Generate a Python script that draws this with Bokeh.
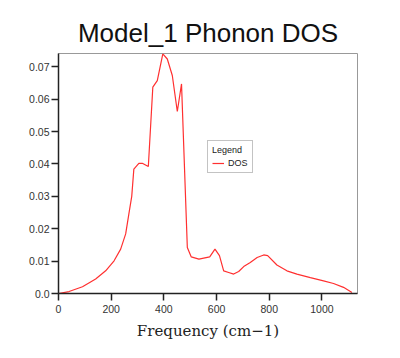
from bokeh.plotting import figure
from bokeh.models import (ColumnDataSource, FixedTicker, CustomJSTickFormatter,
                          Legend, LegendItem, Range1d)
from bokeh.embed import file_html
from bokeh.resources import INLINE

freq = [0, 40, 91, 141, 179, 211, 236, 255, 267, 278, 286, 305, 318, 341, 358,
        375, 396, 413, 432, 451, 467, 489, 504, 533, 574, 594, 611, 627, 646,
        665, 684, 703, 728, 754, 779, 794, 829, 867, 905, 956, 1006, 1044,
        1082, 1114]
dos = [0.0, 0.0006, 0.0021, 0.0045, 0.0070, 0.0101, 0.0137, 0.0184, 0.0245,
       0.0300, 0.0384, 0.0402, 0.0402, 0.0392, 0.0637, 0.0657, 0.0740, 0.0724,
       0.0673, 0.0562, 0.0647, 0.0142, 0.0113, 0.0106, 0.0113, 0.0137, 0.0117,
       0.0070, 0.0065, 0.0060, 0.0068, 0.0083, 0.0096, 0.0111, 0.0119, 0.0117,
       0.0088, 0.0070, 0.0060, 0.0049, 0.0039, 0.0031, 0.0019, 0.0003]
x_ticks = [0, 200, 400, 600, 800, 1000]
y_ticks = [0.0, 0.01, 0.02, 0.03, 0.04, 0.05, 0.06, 0.07]
title_text = "Model_1 Phonon DOS"
x_label = "Frequency (cm\u22121)"
series_name = "DOS"
legend_title = "Legend"

src = ColumnDataSource(dict(x=freq, y=dos))

p = figure(width=384, height=342, output_backend="svg", toolbar_location=None,
           x_range=Range1d(0, 1135), y_range=Range1d(0, 0.0741),
           min_border_left=58, min_border_right=27, min_border_top=53,
           min_border_bottom=49)

p.title.text = title_text
p.title.align = "center"
p.title.text_font = "Liberation Sans"
p.title.text_font_size = "26px"
p.title.text_font_style = "normal"
p.title.text_color = "#111111"
p.title.standoff = 12

r = p.line("x", "y", source=src, line_color="#ff3030", line_width=1.2)

p.xgrid.visible = False
p.ygrid.visible = False
p.outline_line_color = "#999999"
p.outline_line_width = 1

for ax in (p.xaxis[0], p.yaxis[0]):
    ax.axis_line_color = "#222222"
    ax.axis_line_width = 1.5
    ax.major_tick_line_color = "#222222"
    ax.major_tick_line_width = 1.5
    ax.major_tick_out = 7
    ax.major_tick_in = 0
    ax.minor_tick_line_color = None
    ax.major_label_text_font = "Liberation Sans"
    ax.major_label_text_font_size = "10.5px"
    ax.major_label_text_color = "#333333"

p.xaxis[0].ticker = FixedTicker(ticks=x_ticks)
p.yaxis[0].ticker = FixedTicker(ticks=y_ticks)
p.yaxis[0].formatter = CustomJSTickFormatter(
    code="return tick == 0 ? '0.0' : tick.toFixed(2);")
p.xaxis[0].major_label_standoff = 4
p.yaxis[0].major_label_standoff = 2

p.xaxis[0].axis_label = x_label
p.xaxis[0].axis_label_text_font = "DejaVu Serif"
p.xaxis[0].axis_label_text_font_size = "15px"
p.xaxis[0].axis_label_text_font_style = "normal"
p.xaxis[0].axis_label_text_color = "#222222"
p.xaxis[0].axis_label_standoff = 6

legend = Legend(items=[LegendItem(label=series_name, renderers=[r])],
                location=(149, 120), title=legend_title)
legend.title_text_font = "Liberation Sans"
legend.title_text_font_size = "9px"
legend.title_text_font_style = "normal"
legend.title_text_color = "#222222"
legend.title_standoff = 3
legend.label_text_font = "Liberation Sans"
legend.label_text_font_size = "9px"
legend.label_text_color = "#222222"
legend.label_height = 10
legend.label_standoff = 4
legend.glyph_width = 12
legend.glyph_height = 10
legend.padding = 4
legend.spacing = 0
legend.margin = 0
legend.border_line_color = "#888888"
legend.border_line_width = 1
legend.background_fill_alpha = 1
p.add_layout(legend, "center")

open("out.html", "w").write(file_html(p, INLINE))
